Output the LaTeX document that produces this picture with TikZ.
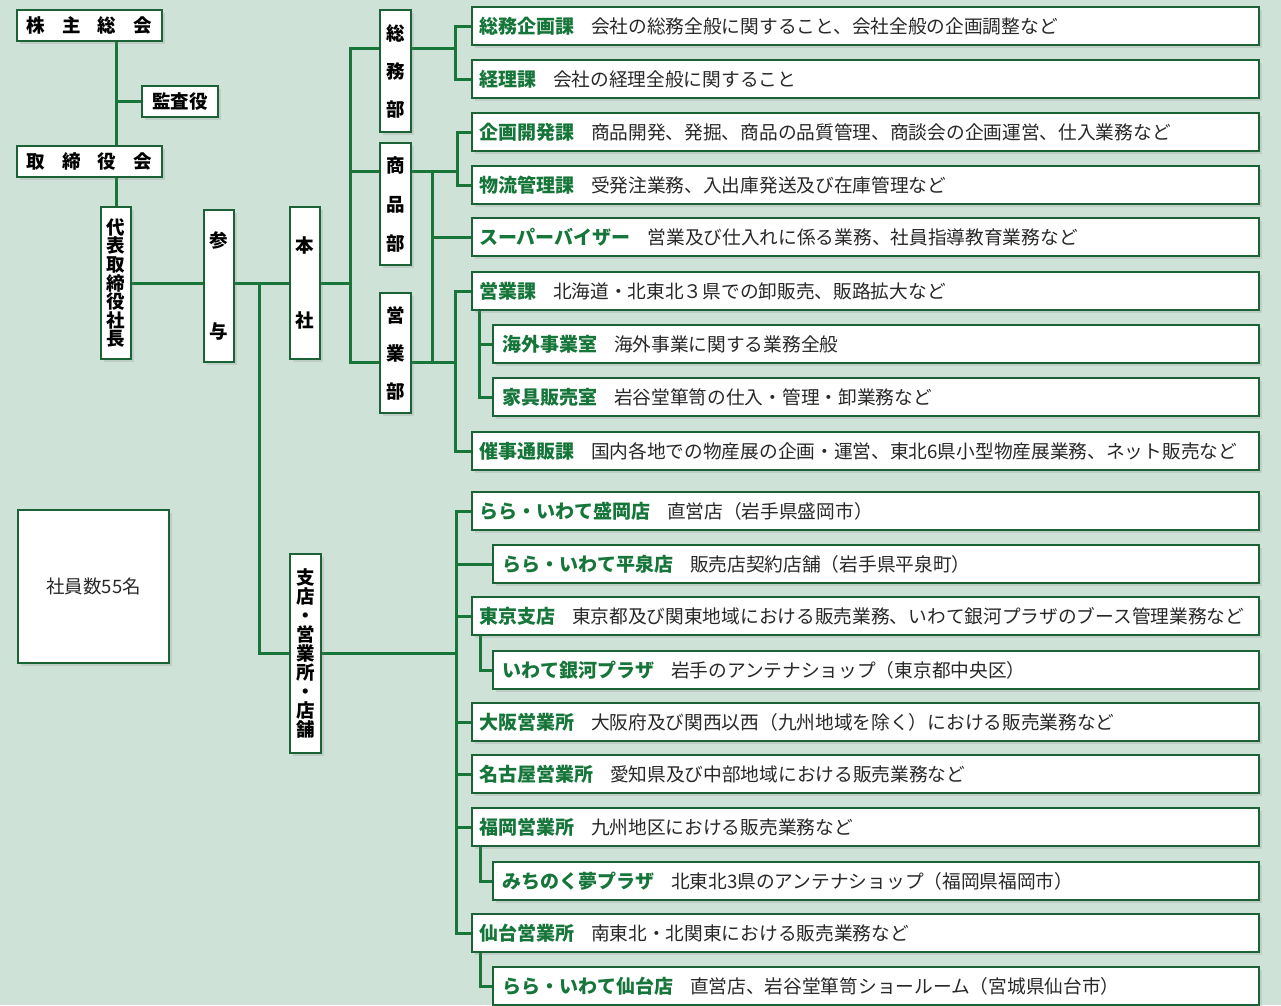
\documentclass[tikz,border=0pt]{standalone}
\usepackage{fontspec}
\setmainfont{Noto Sans CJK JP}
\usetikzlibrary{shadows,calc}
\pgfdeclarelayer{back}
\pgfsetlayers{back,main}
\definecolor{bgc}{RGB}{206,226,216}
\definecolor{lnc}{RGB}{24,118,58}
\definecolor{bdc}{RGB}{28,98,55}
\definecolor{tgc}{RGB}{22,118,58}
\definecolor{txc}{RGB}{40,40,40}
\newcommand\rttl[1]{{\color{tgc}\bfseries\fontsize{19}{20}\selectfont #1}\hspace{17pt}}
\newcommand\rdsc[1]{{\color{txc}\fontsize{18.7}{20}\selectfont #1}}
\tikzset{
  box/.style={draw=bdc, line width=1.6pt, fill=white, inner sep=0pt, outer sep=0pt,
    drop shadow={shadow xshift=2.5pt, shadow yshift=-3pt, opacity=0.2}},
  vbox/.style={box, minimum width=#1, align=center, text=black},
  rowA/.style={box, anchor=north west, minimum height=38pt, inner xsep=7pt, text width=773pt, align=left},
  rowB/.style={box, anchor=north west, minimum height=38pt, inner xsep=9pt, text width=748pt, align=left},
  conn/.style={draw=lnc, line width=3pt},
}
\begin{document}
\begin{tikzpicture}[x=1pt,y=-1pt]
\useasboundingbox (0,0) rectangle (1281,1005);
\begin{pgfonlayer}{back}
\fill[bgc] (0,0) rectangle (1281,1005);
\end{pgfonlayer}

% left column
\node[box, minimum width=145pt, minimum height=31pt, font=\bfseries\fontsize{18.5}{20}\selectfont] (kabu) at (89.5,25.5) {\makebox[125pt]{株\hfill 主\hfill 総\hfill 会}};
\node[box, minimum width=76pt, minimum height=31pt, font=\bfseries\fontsize{18.5}{20}\selectfont] (kansa) at (180,101.5) {監査役};
\node[box, minimum width=145pt, minimum height=31pt, font=\bfseries\fontsize{18.5}{20}\selectfont] (tori) at (89.5,161.5) {\makebox[125pt]{取\hfill 締\hfill 役\hfill 会}};
\node[vbox=30pt, minimum height=152pt, font=\bfseries\fontsize{18.5}{18.6}\selectfont] (daihyo) at (116,283) {代\\表\\取\\締\\役\\社\\長};
\node[vbox=30pt, minimum height=152pt, font=\bfseries\fontsize{18.5}{91}\selectfont] (sanyo) at (219,286) {参\\与};
\node[vbox=30pt, minimum height=152pt, font=\bfseries\fontsize{18.5}{75}\selectfont] (honsha) at (305,283) {本\\社};
\node[vbox=31pt, minimum height=122pt, font=\bfseries\fontsize{18.5}{38}\selectfont] (somu) at (395.5,71) {総\\務\\部};
\node[vbox=31pt, minimum height=122pt, font=\bfseries\fontsize{18.5}{39}\selectfont] (shohin) at (395.5,204) {商\\品\\部};
\node[vbox=31pt, minimum height=120pt, font=\bfseries\fontsize{18.5}{38}\selectfont] (eigyo) at (395.5,353) {営\\業\\部};
\node[vbox=31pt, minimum height=199pt, font=\bfseries\fontsize{18.5}{19}\selectfont] (shiten) at (305.5,653.5) {支\\店\\・\\営\\業\\所\\・\\店\\舗};
\node[box, minimum width=151pt, minimum height=153pt, font=\fontsize{18.5}{20}\selectfont, text=txc] (staff) at (93.5,586.5) {社員数55名};

% rows
\node[rowA] (r0) at (472,7) {\rttl{総務企画課}\rdsc{会社の総務全般に関すること、会社全般の企画調整など}};
\node[rowA] (r1) at (472,60) {\rttl{経理課}\rdsc{会社の経理全般に関すること}};
\node[rowA] (r2) at (472,113) {\rttl{企画開発課}\rdsc{商品開発、発掘、商品の品質管理、商談会の企画運営、仕入業務など}};
\node[rowA] (r3) at (472,166) {\rttl{物流管理課}\rdsc{受発注業務、入出庫発送及び在庫管理など}};
\node[rowA] (r4) at (472,218) {\rttl{スーパーバイザー}\rdsc{営業及び仕入れに係る業務、社員指導教育業務など}};
\node[rowA] (r5) at (472,272) {\rttl{営業課}\rdsc{北海道・北東北３県での卸販売、販路拡大など}};
\node[rowB] (r6) at (493,325) {\rttl{海外事業室}\rdsc{海外事業に関する業務全般}};
\node[rowB] (r7) at (493,378) {\rttl{家具販売室}\rdsc{岩谷堂箪笥の仕入・管理・卸業務など}};
\node[rowA] (r8) at (472,432) {\rttl{催事通販課}\rdsc{国内各地での物産展の企画・運営、東北6県小型物産展業務、ネット販売など}};
\node[rowA] (r9) at (472,492) {\rttl{らら・いわて盛岡店}\rdsc{直営店（岩手県盛岡市）}};
\node[rowB] (r10) at (493,545) {\rttl{らら・いわて平泉店}\rdsc{販売店契約店舗（岩手県平泉町）}};
\node[rowA] (r11) at (472,597) {\rttl{東京支店}\rdsc{東京都及び関東地域における販売業務、いわて銀河プラザのブース管理業務など}};
\node[rowB] (r12) at (493,651) {\rttl{いわて銀河プラザ}\rdsc{岩手のアンテナショップ（東京都中央区）}};
\node[rowA] (r13) at (472,703) {\rttl{大阪営業所}\rdsc{大阪府及び関西以西（九州地域を除く）における販売業務など}};
\node[rowA] (r14) at (472,755) {\rttl{名古屋営業所}\rdsc{愛知県及び中部地域における販売業務など}};
\node[rowA] (r15) at (472,808) {\rttl{福岡営業所}\rdsc{九州地区における販売業務など}};
\node[rowB] (r16) at (493,862) {\rttl{みちのく夢プラザ}\rdsc{北東北3県のアンテナショップ（福岡県福岡市）}};
\node[rowA] (r17) at (472,914) {\rttl{仙台営業所}\rdsc{南東北・北関東における販売業務など}};
\node[rowB] (r18) at (493,967) {\rttl{らら・いわて仙台店}\rdsc{直営店、岩谷堂箪笥ショールーム（宮城県仙台市）}};

% junction coordinates
\coordinate (sx1) at (455,0);
\coordinate (sx2) at (457,0);
\coordinate (sx3) at (456,0);
\coordinate (hx) at (350,0);
\coordinate (mx) at (432,0);
\coordinate (bx) at (259,283);
\coordinate (y48) at (0,48);
\coordinate (y171) at (0,171);
\coordinate (y362) at (0,362);

\begin{pgfonlayer}{back}
% top left chain
\draw[conn] (kabu.south -| daihyo.north) -- (daihyo.north);
\draw[conn] (kansa.west) -- (kansa.west -| daihyo.north);
\draw[conn] (daihyo.east) -- (sanyo.west |- daihyo.east);
\draw[conn] (sanyo.east |- daihyo.east) -- (honsha.west);
\draw[conn] (bx) |- (shiten.west);
% honsha spine
\draw[conn] (honsha.east) -- (hx |- honsha.east);
\draw[conn] (somu.west |- y48) -| (hx |- y362) -- (eigyo.west |- y362);
\draw[conn] (hx |- y171) -- (shohin.west |- y171);
% somu branch
\draw[conn] (somu.east |- y48) -- (sx1 |- y48);
\draw[conn] (r0.west) -| (sx1 |- r1.west) -- (r1.west);
% shohin branch
\draw[conn] (shohin.east |- y171) -- (sx2 |- y171);
\draw[conn] (r2.west) -| (sx2 |- r3.west) -- (r3.west);
\draw[conn] (mx |- y171) -- (mx |- y362);
\draw[conn] (mx |- r4.west) -- (r4.west);
% eigyo branch
\draw[conn] (eigyo.east |- y362) -- (sx1 |- y362);
\draw[conn] (r5.west) -| (sx1 |- r8.west) -- (r8.west);
\draw[conn] ($(r5.south west)+(7,0)$) |- (r7.west);
\draw[conn] ($(r5.south west)+(7,0)$) |- (r6.west);
% shiten branch
\draw[conn] (shiten.east) -- (sx3 |- shiten.east);
\draw[conn] (r9.west) -| (sx3 |- r17.west) -- (r17.west);
\draw[conn] (sx3 |- r10.west) -- (r10.west);
\draw[conn] (sx3 |- r11.west) -- (r11.west);
\draw[conn] (sx3 |- r13.west) -- (r13.west);
\draw[conn] (sx3 |- r14.west) -- (r14.west);
\draw[conn] (sx3 |- r15.west) -- (r15.west);
\draw[conn] ($(r11.south west)+(8,0)$) |- (r12.west);
\draw[conn] ($(r15.south west)+(8,0)$) |- (r16.west);
\draw[conn] ($(r17.south west)+(8,0)$) |- (r18.west);
\end{pgfonlayer}
\end{tikzpicture}
\end{document}
